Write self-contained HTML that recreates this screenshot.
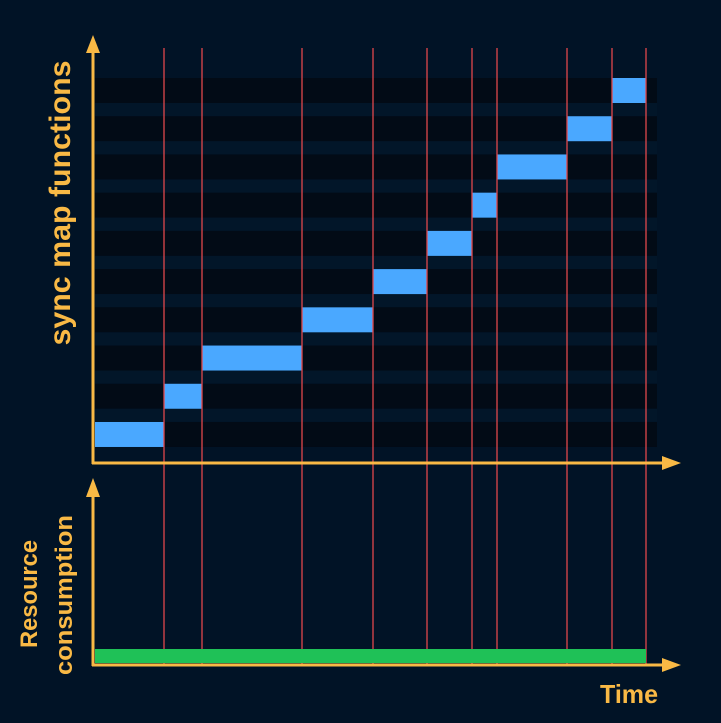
<!DOCTYPE html>
<html><head><meta charset="utf-8"><style>
body{margin:0;background:#011326;}
svg{display:block;font-family:"Liberation Sans",sans-serif;}
</style></head><body>
<svg id="c" width="721" height="723">
<rect width="721" height="723" fill="#011326"/>
<g id="stripes"></g><g id="bars"></g><g id="vlines"></g>
<rect id="green" x="95" y="649" width="551" height="14" fill="#1fc157"/>
<g fill="none" stroke="#f9b945" stroke-width="3">
<line x1="93" y1="464" x2="93" y2="48"/>
<line x1="92" y1="463" x2="666" y2="463"/>
<line x1="93" y1="666" x2="93" y2="494"/>
<line x1="92" y1="665" x2="666" y2="665"/>
</g>
<g fill="#f9b945">
<polygon points="93,35 86,53 100,53"/>
<polygon points="93,478 86,497 100,497"/>
<polygon points="681,463 662,456 662,470"/>
<polygon points="681,665 662,658 662,672"/>
</g>
<text transform="translate(70,203) rotate(-90)" text-anchor="middle" fill="#f9b945" font-size="30" font-weight="bold" textLength="285" lengthAdjust="spacingAndGlyphs">sync map functions</text>
<text transform="translate(37,594) rotate(-90)" text-anchor="middle" fill="#f9b945" font-size="24" font-weight="bold" textLength="108" lengthAdjust="spacingAndGlyphs">Resource</text>
<text transform="translate(72,595) rotate(-90)" text-anchor="middle" fill="#f9b945" font-size="24" font-weight="bold" textLength="160" lengthAdjust="spacingAndGlyphs">consumption</text>
<text x="600" y="703" fill="#f9b945" font-size="26" font-weight="bold" textLength="58" lengthAdjust="spacingAndGlyphs">Time</text>
</svg>
<script>
const starts=[95,164,202,302,373,427,472,497,567,612];
const ends=[164,202,302,373,427,472,497,567,612,646];
const lanes=[9,8,7,6,5,4,3,2,1,0];
const ns="http://www.w3.org/2000/svg";
const laneY=k=>78+k*38.22;
const S=document.getElementById('stripes'),B=document.getElementById('bars'),V=document.getElementById('vlines');
for(let k=0;k<10;k++){
  const r=document.createElementNS(ns,'rect');
  
  
  r.setAttribute('x',95);r.setAttribute('y',laneY(k));r.setAttribute('width',562);r.setAttribute('height',25);r.setAttribute('fill','#020b16');
  S.appendChild(r);
  if(k<9){const l=document.createElementNS(ns,'rect');
  
  
  l.setAttribute('x',95);l.setAttribute('y',laneY(k)+25);l.setAttribute('width',562);l.setAttribute('height',13.22);l.setAttribute('fill','#021629');
  S.appendChild(l);}
}
starts.forEach((s,i)=>{
  const r=document.createElementNS(ns,'rect');
  
  
  r.setAttribute('x',s);r.setAttribute('y',laneY(lanes[i]));r.setAttribute('width',ends[i]-s);r.setAttribute('height',25);r.setAttribute('fill','#4aa8ff');
  B.appendChild(r);
  const l=document.createElementNS(ns,'line');
  
  
  l.setAttribute('x1',ends[i]);l.setAttribute('x2',ends[i]);l.setAttribute('y1',48);l.setAttribute('y2',664);l.setAttribute('stroke','#e0474c');l.setAttribute('stroke-width',1.3);
  V.appendChild(l);
});
</script>
</body></html>
